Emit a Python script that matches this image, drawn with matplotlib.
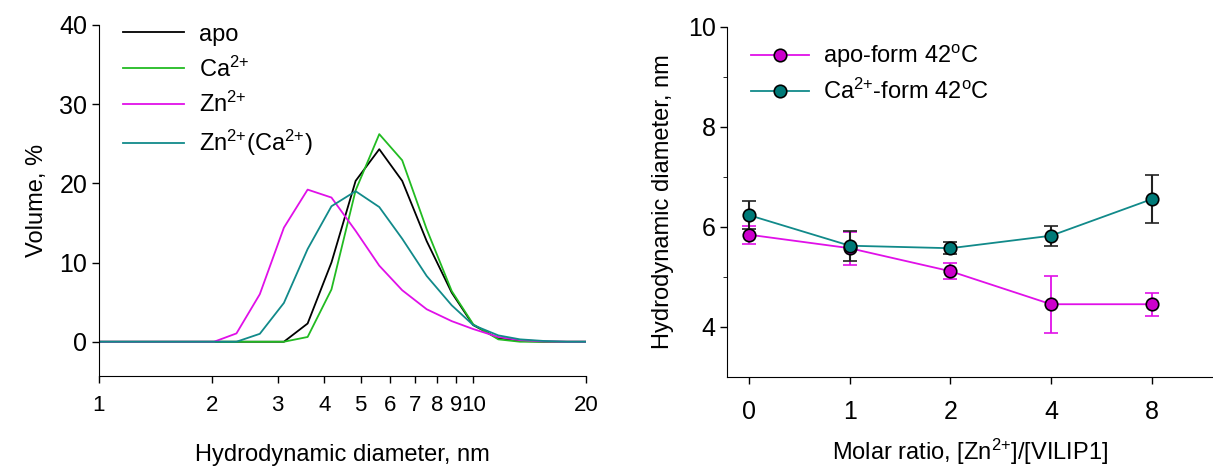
import numpy as np
import matplotlib
matplotlib.use('Agg')
import matplotlib.pyplot as plt
from matplotlib.ticker import FixedLocator
from matplotlib.lines import Line2D

plt.rcParams['font.family'] = ['Liberation Sans', 'DejaVu Sans']
plt.rcParams['mathtext.fontset'] = 'custom'
plt.rcParams['mathtext.rm'] = 'Liberation Sans'
plt.rcParams['mathtext.it'] = 'Liberation Sans:italic'
plt.rcParams['mathtext.bf'] = 'Liberation Sans:bold'

# Size distribution (left panel)
diam = [1.0, 2.03, 2.33, 2.69, 3.12, 3.61, 4.18, 4.85, 5.61, 6.46, 7.51, 8.76,
        10.0, 11.67, 13.34, 15.4, 17.8, 20.0]
vol_apo = [0, 0, 0, 0, 0, 2.3, 10.0, 20.3, 24.3, 20.3, 12.7, 6.2,
           2.1, 0.4, 0.1, 0, 0, 0]
vol_ca = [0, 0, 0, 0, 0, 0.6, 6.6, 19.1, 26.2, 22.9, 14.2, 6.4,
          2.2, 0.3, 0, 0, 0, 0]
vol_zn = [0, 0, 1.05, 6.0, 14.4, 19.2, 18.2, 14.0, 9.6, 6.5, 4.1, 2.6,
          1.6, 0.6, 0.2, 0.05, 0, 0]
vol_znca = [0, 0, 0, 1.0, 4.9, 11.7, 17.1, 19.0, 17.0, 13.0, 8.3, 4.6,
            2.1, 0.8, 0.3, 0.1, 0, 0]
size_labels = ['apo', r'Ca$^{2{+}}$', r'Zn$^{2{+}}$',
               r'Zn$^{2{+}}$(Ca$^{2{+}}$)']
size_ticks = [1, 2, 3, 4, 5, 6, 7, 8, 9, 10, 20]

# Hydrodynamic diameter vs molar ratio (right panel)
ratio_labels = ['0', '1', '2', '4', '8']
apo_d = [5.84, 5.57, 5.11, 4.45, 4.45]
apo_err = [0.18, 0.33, 0.16, 0.57, 0.23]
ca_d = [6.23, 5.62, 5.57, 5.82, 6.55]
ca_err = [0.28, 0.30, 0.12, 0.20, 0.48]
form_labels = [r'apo-form 42$^{\mathrm{o}}$C', r'Ca$^{2{+}}$-form 42$^{\mathrm{o}}$C']

magenta = '#e010e8'
teal = '#118a8a'

fig = plt.figure(figsize=(12.13, 4.68), dpi=100)

# left panel
ax1 = fig.add_axes([0.0816, 0.197, 0.4014, 0.750])
ax1.plot(diam, vol_apo, color='black', lw=1.3, label=size_labels[0])
ax1.plot(diam, vol_ca, color='#22bb22', lw=1.3, label=size_labels[1])
ax1.plot(diam, vol_zn, color=magenta, lw=1.3, label=size_labels[2])
ax1.plot(diam, vol_znca, color=teal, lw=1.3, label=size_labels[3])
ax1.set_xscale('log')
ax1.set_xlim(1, 20)
ax1.set_ylim(-4.3, 40)
ax1.xaxis.set_major_locator(FixedLocator(size_ticks))
ax1.xaxis.set_minor_locator(FixedLocator([]))
ax1.set_xticklabels([str(t) for t in size_ticks])
ax1.set_yticks([0, 10, 20, 30, 40])
ax1.spines['top'].set_visible(False)
ax1.spines['right'].set_visible(False)
ax1.tick_params(axis='both', labelsize=18, length=5, width=1)
ax1.tick_params(axis='x', labelsize=16, pad=9)
ax1.set_xlabel('Hydrodynamic diameter, nm', fontsize=17, labelpad=20)
ax1.set_ylabel('Volume, %', fontsize=17, labelpad=8)
ax1.legend(loc='upper left', fontsize=17, frameon=False, handlelength=2.6,
           handletextpad=0.6, labelspacing=0.45, borderaxespad=0.0,
           bbox_to_anchor=(0.03, 1.03))

# right panel
ax2 = fig.add_axes([0.5996, 0.195, 0.4004, 0.748])
x = np.arange(len(ratio_labels))
ax2.errorbar(x, apo_d, yerr=apo_err, color=magenta, ecolor=magenta, lw=1.3,
             marker='o', ms=9, mfc='#cc00cc', mec='black', mew=1.2,
             capsize=5, elinewidth=1.3, capthick=1.5)
ax2.errorbar(x, ca_d, yerr=ca_err, color=teal, ecolor='#222222', lw=1.3,
             marker='o', ms=9, mfc='#007a78', mec='black', mew=1.2,
             capsize=5, elinewidth=1.5, capthick=1.5)
ax2.set_xlim(-0.218, 4.61)
ax2.set_ylim(3, 10)
ax2.set_xticks(x)
ax2.set_xticklabels(ratio_labels)
ax2.set_yticks([4, 6, 8, 10])
ax2.yaxis.set_minor_locator(FixedLocator([5, 7, 9]))
ax2.spines['top'].set_visible(False)
ax2.spines['right'].set_visible(False)
ax2.tick_params(axis='both', labelsize=18, length=5, width=1)
ax2.tick_params(axis='y', which='minor', length=3)
ax2.tick_params(axis='x', pad=12)
ax2.set_xlabel('Molar ratio, [Zn$^{2{+}}$]/[VILIP1]', fontsize=17, labelpad=9)
ax2.set_ylabel('Hydrodynamic diameter, nm', fontsize=17, labelpad=10)
handles = [Line2D([], [], color=magenta, lw=1.3, marker='o', ms=9, mfc='#cc00cc',
                  mec='black', mew=1.2),
           Line2D([], [], color=teal, lw=1.3, marker='o', ms=9, mfc='#007a78',
                  mec='black', mew=1.2)]
ax2.legend(handles, form_labels, loc='upper left', fontsize=17, frameon=False,
           handlelength=2.45, handletextpad=0.6, labelspacing=0.35,
           borderaxespad=0.0, bbox_to_anchor=(0.03, 0.98))

fig.savefig('out.png', dpi=100)
